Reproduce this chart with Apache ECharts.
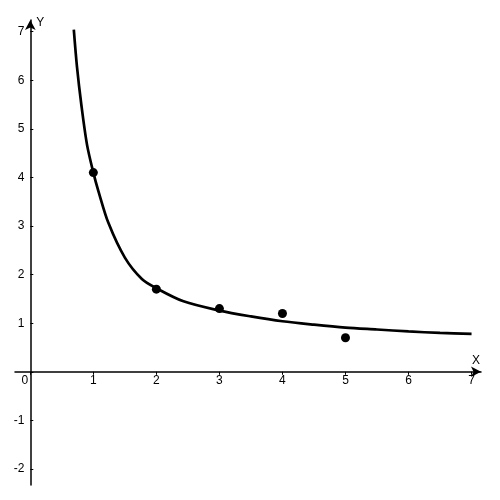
<!DOCTYPE html>
<html>
<head>
<meta charset="utf-8">
<script src="https://cdn.jsdelivr.net/npm/echarts@6/dist/echarts.min.js"></script>
<style>html,body{margin:0;padding:0;background:#fff}#c{width:500px;height:500px}</style>
</head>
<body>
<div id="c"></div>
<script>
// Fitted curve
var curveX = [0.69, 0.74, 0.81, 0.90, 1.0, 1.08, 1.24, 1.5, 1.77, 2.0, 2.43, 3.0, 3.5, 4.0, 4.5, 5.0, 5.5, 6.0, 6.5, 7.0];
var curveY = [7.04, 6.28, 5.49, 4.67, 4.1, 3.72, 3.06, 2.35, 1.91, 1.72, 1.45, 1.26, 1.14, 1.04, 0.97, 0.91, 0.87, 0.83, 0.80, 0.78];
// Data points
var pointX = [1, 2, 3, 4, 5];
var pointY = [4.1, 1.7, 1.3, 1.2, 0.7];

var curve = curveX.map(function (x, i) { return [x, curveY[i]]; });
var pts = pointX.map(function (x, i) { return [x, pointY[i]]; });

var font = 'Liberation Sans';
var G = {left: 15, right: 19, top: 20, bottom: 15};
var W = 500, H = 500;
var xMin = -0.243, xMax = 7.15, yMin = -2.33, yMax = 7.24;
var gw = W - G.left - G.right, gh = H - G.top - G.bottom;
// place axes through the origin
var xOff = -((0 - yMin) / (yMax - yMin) * gh);
var yOff = -((0 - xMin) / (xMax - xMin) * gw);

var chart = echarts.init(document.getElementById('c'), null, {renderer: 'canvas'});
chart.setOption({
  animation: false,
  backgroundColor: '#fff',
  grid: {left: G.left, right: G.right, top: G.top, bottom: G.bottom, containLabel: false, outerBoundsMode: 'none'},
  xAxis: {
    type: 'value', min: xMin, max: xMax, splitNumber: 7, position: 'bottom', offset: xOff,
    name: 'X', nameLocation: 'end', nameGap: -5,
    nameTextStyle: {color: '#000', fontFamily: font, fontSize: 12, align: 'center', verticalAlign: 'bottom', padding: [0, 0, 5, 0]},
    axisLine: {onZero: false, lineStyle: {color: '#000', width: 1.5}, symbol: ['none', 'arrow'], symbolSize: [8, 10]},
    axisTick: {show: true, inside: false, length: 3, lineStyle: {color: '#000'}},
    axisLabel: {
      color: '#000', fontFamily: font, fontSize: 12, margin: 3, showMinLabel: false, showMaxLabel: false,
      formatter: function (v) { return v === 0 ? '{z|0}' : String(v); },
      rich: {z: {padding: [0, 11, 0, 0], fontFamily: font, fontSize: 12, color: '#000'}}
    },
    splitLine: {show: false}
  },
  yAxis: {
    type: 'value', min: yMin, max: yMax, splitNumber: 9, position: 'left', offset: yOff,
    name: 'Y', nameLocation: 'end', nameGap: -3,
    nameTextStyle: {color: '#000', fontFamily: font, fontSize: 12, align: 'left', verticalAlign: 'middle', padding: [0, 0, 0, 6]},
    axisLine: {onZero: false, lineStyle: {color: '#000', width: 1.5}, symbol: ['none', 'arrow'], symbolSize: [8, 10]},
    axisTick: {show: true, inside: true, length: 3, lineStyle: {color: '#000'}},
    axisLabel: {
      color: '#000', fontFamily: font, fontSize: 12, margin: 6, showMinLabel: false, showMaxLabel: false,
      formatter: function (v) { return v === 0 ? '' : String(v); }
    },
    splitLine: {show: false}
  },
  series: [
    {
      type: 'line', data: curve, smooth: 0.3, showSymbol: false,
      lineStyle: {color: '#000', width: 2.7}, z: 2
    },
    {
      type: 'scatter', data: pts, symbol: 'circle', symbolSize: 9,
      itemStyle: {color: '#000', opacity: 1}, z: 3
    }
  ]
});
</script>
</body>
</html>
